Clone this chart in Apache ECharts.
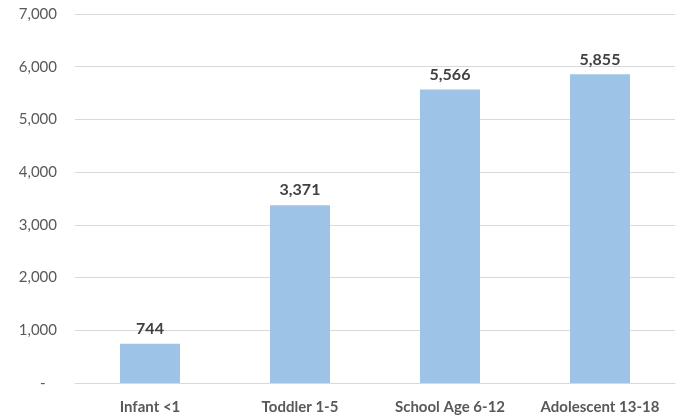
<!DOCTYPE html>
<html>
<head>
<meta charset="utf-8">
<script src="https://cdn.jsdelivr.net/npm/echarts@6/dist/echarts.min.js"></script>
<style>
html,body{margin:0;padding:0;background:#fff;}
#chart{width:683px;height:419px;}
</style>
</head>
<body>
<div id="chart"></div>
<script>
const categories = ["Infant <1", "Toddler 1-5", "School Age 6-12", "Adolescent 13-18"];
const values = [744, 3371, 5566, 5855];
const yTicks = [0, 1000, 2000, 3000, 4000, 5000, 6000, 7000];

const chart = echarts.init(document.getElementById('chart'), null, {renderer: 'canvas'});
const fontFamily = 'Lato, "Open Sans", sans-serif';
chart.setOption({
  animation: false,
  backgroundColor: '#ffffff',
  grid: {left: 75, right: 8, top: 14, bottom: 36, containLabel: false},
  xAxis: {
    type: 'category',
    data: categories,
    axisLine: {show: true, lineStyle: {color: '#d9d9d9', width: 1}},
    axisTick: {show: false},
    axisLabel: {interval: 0, hideOverlap: false, color: '#595959', fontSize: 15, fontWeight: 'bold', fontFamily: fontFamily, margin: 17}
  },
  yAxis: {
    type: 'value',
    min: yTicks[0],
    max: yTicks[yTicks.length - 1],
    interval: 1000,
    axisLine: {show: false},
    axisTick: {show: false},
    splitLine: {lineStyle: {color: '#d9d9d9', width: 1}},
    axisLabel: {
      color: '#595959', fontSize: 15, fontFamily: fontFamily, margin: 18,
      formatter: function (v) { return v === 0 ? '-   ' : v.toLocaleString('en-US'); }
    }
  },
  series: [{
    type: 'bar',
    data: values,
    barWidth: '40%',
    itemStyle: {color: '#9dc3e6'},
    label: {
      show: true, position: 'top', distance: 7,
      color: '#404040', fontSize: 16, fontWeight: 'bold', fontFamily: fontFamily,
      formatter: function (p) { return p.value.toLocaleString('en-US'); }
    }
  }]
});
</script>
</body>
</html>
